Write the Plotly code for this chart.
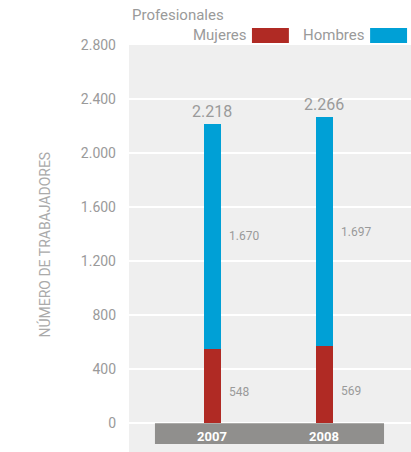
import plotly.graph_objects as go

years = ["2007", "2008"]
mujeres = [548, 569]
hombres = [1670, 1697]
totales = [2218, 2266]
tick_vals = [0, 400, 800, 1200, 1600, 2000, 2400, 2800]
title_text = "Profesionales"
y_title = "NÚMERO DE TRABAJADORES"

RED = "#b02a24"
BLUE = "#00a0d6"
GRAY_TXT = "#9a9a9a"
FONT = "Roboto"

def fmt(v):
    return f"{v:,}".replace(",", ".")

fig = go.Figure()
fig.add_trace(go.Bar(x=years, y=mujeres, name="Mujeres", marker_color=RED,
                     marker_line_width=0, width=0.152, showlegend=False))
fig.add_trace(go.Bar(x=years, y=hombres, name="Hombres", marker_color=BLUE,
                     marker_line_width=0, width=0.152, showlegend=False))

annotations = []
for i, (m, h, t) in enumerate(zip(mujeres, hombres, totales)):
    annotations.append(dict(x=i, y=t, text=fmt(t), showarrow=False, yanchor="bottom",
                            xanchor="center", yshift=1,
                            font=dict(family=FONT, size=16, color=GRAY_TXT)))
    annotations.append(dict(x=i + 0.076, y=m + h / 2, text=fmt(h), showarrow=False,
                            xanchor="left", yanchor="middle", xshift=6,
                            font=dict(family=FONT, size=12, color=GRAY_TXT)))
    annotations.append(dict(x=i + 0.076, y=m / 2, text=fmt(m), showarrow=False,
                            xanchor="left", yanchor="middle", xshift=6, yshift=-6,
                            font=dict(family=FONT, size=12, color=GRAY_TXT)))
    annotations.append(dict(x=i, y=-95, text=f"<b>{years[i]}</b>", showarrow=False,
                            xanchor="center", yanchor="middle",
                            font=dict(family=FONT, size=13, color="white")))

# title, legend and axis title
annotations += [
    dict(xref="paper", yref="paper", x=0.0035, y=1.0737, text=title_text, showarrow=False,
         xanchor="left", yanchor="middle", font=dict(family=FONT, size=15, color=GRAY_TXT)),
    dict(xref="paper", yref="paper", x=0.424, y=1.0246, text="Mujeres", showarrow=False,
         xanchor="right", yanchor="middle", font=dict(family=FONT, size=15, color=GRAY_TXT)),
    dict(xref="paper", yref="paper", x=0.842, y=1.0246, text="Hombres", showarrow=False,
         xanchor="right", yanchor="middle", font=dict(family=FONT, size=15, color=GRAY_TXT)),
    dict(xref="paper", yref="paper", x=-0.301, y=0.51, text=y_title, showarrow=False,
         textangle=-90, xanchor="center", yanchor="middle",
         font=dict(family=FONT, size=14, color="#aaaaaa")),
]

shapes = [
    dict(type="rect", xref="x", yref="y", x0=-0.514, x1=1.533, y0=-153, y1=0,
         fillcolor="#908f8d", line_width=0, layer="above"),
    dict(type="rect", xref="paper", yref="paper", x0=0.436, x1=0.567, y0=1.0049, y1=1.0418,
         fillcolor=RED, line_width=0),
    dict(type="rect", xref="paper", yref="paper", x0=0.855, x1=0.986, y0=1.0049, y1=1.0418,
         fillcolor=BLUE, line_width=0),
]

fig.update_layout(
    width=411, height=452,
    margin=dict(l=129, r=0, t=45, b=0),
    barmode="stack",
    plot_bgcolor="#efefef",
    paper_bgcolor="white",
    separators=",.",
    annotations=annotations,
    shapes=shapes,
    xaxis=dict(range=[-0.746, 1.774], showticklabels=False, showgrid=False,
               zeroline=False, showline=False, ticks=""),
    yaxis=dict(range=[-212, 2800], tickvals=tick_vals,
               ticktext=[fmt(v) for v in tick_vals],
               showgrid=True, gridcolor="white", gridwidth=1.5,
               zeroline=True, zerolinecolor="white", zerolinewidth=1.5,
               showline=False, ticks="", ticklabelstandoff=12,
               tickfont=dict(family=FONT, size=14, color=GRAY_TXT)),
)

fig.write_html("out.html")
